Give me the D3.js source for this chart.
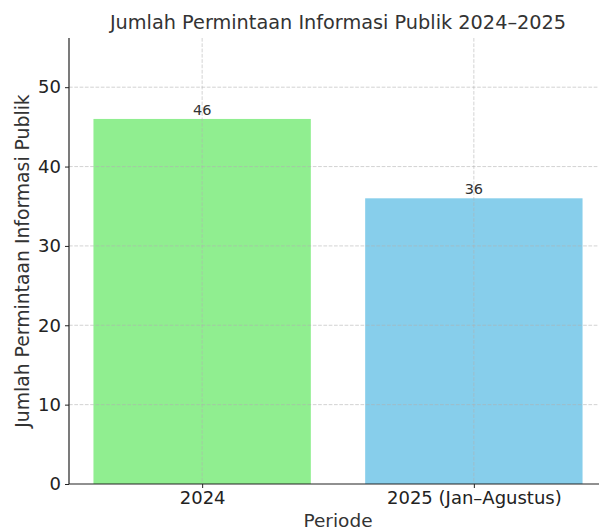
<!DOCTYPE html>
<html>
<head>
<meta charset="utf-8">
<script src="https://cdn.jsdelivr.net/npm/d3@7"></script>
<style>
  body { margin: 0; background: #fff; }
  text { font-family: "DejaVu Sans", sans-serif; }
</style>
</head>
<body>
<div id="chart"></div>
<script>
const categories = ['2024', '2025 (Jan–Agustus)'];
const values = [46, 36];
const barColors = ['#90ee90', '#87ceeb'];
const yTicks = [0, 10, 20, 30, 40, 50];

const width = 599;
const height = 531;
const margin = { top: 38, right: -8, bottom: 47, left: 69 };
const innerW = width - margin.left - margin.right;
const innerH = height - margin.top - margin.bottom;

const svg = d3.select('#chart')
  .append('svg')
  .attr('width', width)
  .attr('height', height);

const g = svg.append('g')
  .attr('transform', `translate(${margin.left}, ${margin.top})`);

// linear x like matplotlib: bars at 0,1 with width 0.8, 5% margins
const x = d3.scaleLinear()
  .domain([-0.49, 1.49])
  .range([0, innerW]);

const y = d3.scaleLinear()
  .domain([0, 56.2])
  .range([innerH, 0]);

const barW = x(0.8) - x(0);

// bars
g.selectAll('rect.bar')
  .data(values)
  .enter()
  .append('rect')
  .attr('class', 'bar')
  .attr('x', (d, i) => x(i) - barW / 2)
  .attr('y', d => y(d))
  .attr('width', barW)
  .attr('height', d => innerH - y(d))
  .attr('fill', (d, i) => barColors[i]);

// grid on top of bars
g.selectAll('line.hgrid')
  .data(yTicks.slice(1))
  .enter()
  .append('line')
  .attr('x1', 0)
  .attr('x2', innerW)
  .attr('y1', d => y(d))
  .attr('y2', d => y(d))
  .attr('stroke', '#b0b0b0')
  .attr('stroke-opacity', 0.7)
  .attr('stroke-dasharray', '3.7,1.6')
  .attr('stroke-width', 0.8);

g.selectAll('line.vgrid')
  .data(categories)
  .enter()
  .append('line')
  .attr('x1', (d, i) => x(i))
  .attr('x2', (d, i) => x(i))
  .attr('y1', 0)
  .attr('y2', innerH)
  .attr('stroke', '#b0b0b0')
  .attr('stroke-opacity', 0.7)
  .attr('stroke-dasharray', '3.7,1.6')
  .attr('stroke-width', 0.8);

// value labels
g.selectAll('text.val')
  .data(values)
  .enter()
  .append('text')
  .attr('x', (d, i) => x(i))
  .attr('y', d => y(d) - 4)
  .attr('text-anchor', 'middle')
  .attr('font-size', 14.5)
  .attr('fill', '#333')
  .text(d => d);

// axes
const yAxis = g.append('g')
  .call(d3.axisLeft(y).tickValues(yTicks).tickSize(4).tickPadding(4));
yAxis.selectAll('text').attr('font-size', 18).attr('fill', '#222').style('font-family', '"DejaVu Sans", sans-serif');

const xAxis = g.append('g')
  .attr('transform', `translate(0, ${innerH})`)
  .call(d3.axisBottom(x).tickValues([0, 1]).tickFormat((d, i) => categories[i]).tickSize(4).tickPadding(3));
xAxis.selectAll('text').attr('font-size', 18).attr('fill', '#222').style('font-family', '"DejaVu Sans", sans-serif');

[yAxis, xAxis].forEach(a => {
  a.select('.domain').attr('stroke', '#222').attr('stroke-width', 1.2);
  a.selectAll('.tick line').attr('stroke', '#222');
});
xAxis.select('.domain').attr('d', `M0,0H${innerW}`);
yAxis.select('.domain').attr('d', `M0,${innerH}V0`);

// title and axis labels
svg.append('text')
  .attr('x', margin.left + innerW / 2)
  .attr('y', 29)
  .attr('text-anchor', 'middle')
  .attr('font-size', 19.3)
  .attr('fill', '#333')
  .text('Jumlah Permintaan Informasi Publik 2024–2025');

svg.append('text')
  .attr('x', margin.left + innerW / 2)
  .attr('y', 527)
  .attr('text-anchor', 'middle')
  .attr('font-size', 18.5)
  .attr('fill', '#333')
  .text('Periode');

svg.append('text')
  .attr('transform', `translate(29, ${margin.top + innerH / 2}) rotate(-90)`)
  .attr('text-anchor', 'middle')
  .attr('font-size', 18.8)
  .attr('fill', '#333')
  .text('Jumlah Permintaan Informasi Publik');
</script>
</body>
</html>
